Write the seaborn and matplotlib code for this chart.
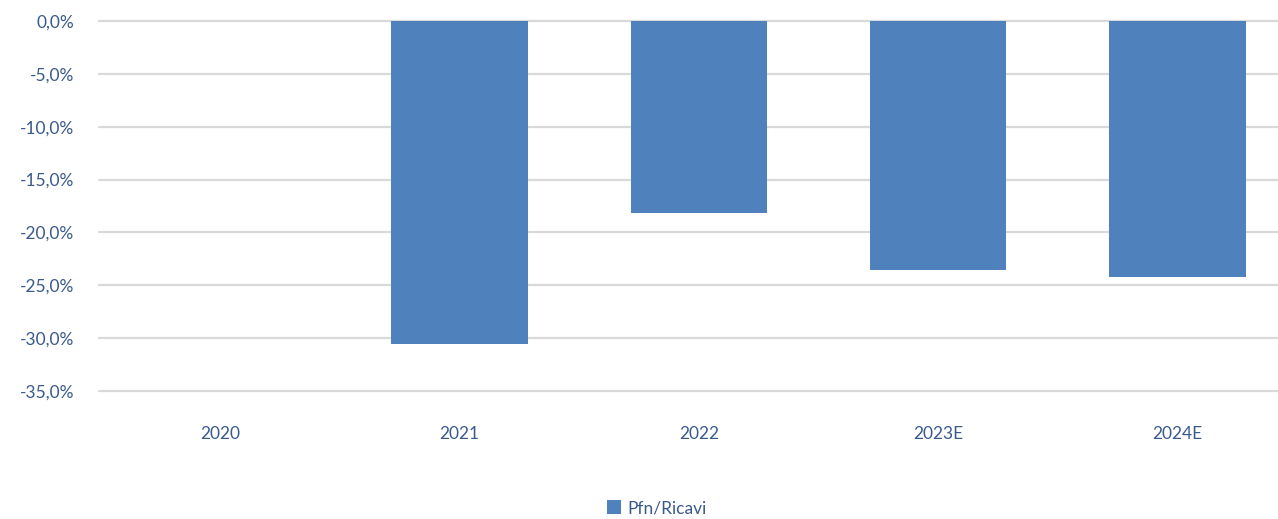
# Pfn/Ricavi per anno
import matplotlib
matplotlib.use("Agg")
import matplotlib.pyplot as plt
import seaborn as sns
import pandas as pd
from matplotlib.ticker import FuncFormatter, MultipleLocator

anni = ["2020", "2021", "2022", "2023E", "2024E"]
pfn_ricavi = [0.0, -30.55, -18.15, -23.55, -24.2]

df = pd.DataFrame({"anno": anni, "valore": pfn_ricavi})

sns.set_style("white")
plt.rcParams["font.family"] = ["Lato", "DejaVu Sans"]

testo = "#3A5A8C"
blu = "#4F81BD"

fig = plt.figure(figsize=(12.78, 5.19), dpi=100)
ax = fig.add_axes([99 / 1278, 1 - 391 / 519, 1 - 99 / 1278, 370 / 519])

sns.barplot(data=df, x="anno", y="valore", color=blu, width=0.57,
            saturation=1, linewidth=0, ax=ax, label="Pfn/Ricavi")

ax.set_ylim(-35, 0)
ax.set_xlim(-0.506, 4.42)
ax.yaxis.set_major_locator(MultipleLocator(5))
ax.yaxis.set_major_formatter(FuncFormatter(lambda v, p: f"{v:.1f}%".replace(".", ",")))
ax.grid(axis="y", color="#D9D9D9", lw=1.6)
ax.set_axisbelow(True)
for s in ax.spines.values():
    s.set_visible(False)

ax.tick_params(axis="y", length=0, pad=18, labelsize=12.5, labelcolor=testo)
ax.tick_params(axis="x", length=0, pad=25, labelsize=12.5, labelcolor=testo)
ax.set_xlabel("")
ax.set_ylabel("")

# la griglia deve arrivare fino ai bordi
for l in ax.get_ygridlines():
    l.set_clip_on(False)

ax.legend().remove()
handles, labels = ax.get_legend_handles_labels()
fig.legend(handles[:1], labels[:1], loc="center", bbox_to_anchor=(657 / 1278, 11 / 519),
           frameon=False, handlelength=0.8, handleheight=0.8, handletextpad=0.4,
           fontsize=12.5, labelcolor=testo)

plt.savefig("out.png", dpi=100)
